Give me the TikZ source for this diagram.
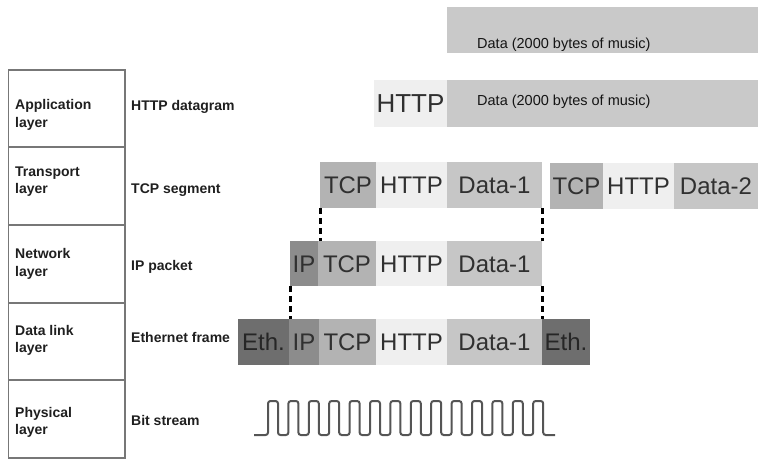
\documentclass[tikz,border=0pt]{standalone}
\usepackage{fontspec}
\setmainfont{Liberation Sans}
\definecolor{cEth}{HTML}{6E6E6E}
\definecolor{cIP}{HTML}{8C8C8C}
\definecolor{cTCP}{HTML}{B3B3B3}
\definecolor{cHTTP}{HTML}{EFEFEF}
\definecolor{cData}{HTML}{C6C6C6}
\definecolor{cMusic}{HTML}{C9C9C9}
\definecolor{pktext}{HTML}{303030}
\definecolor{frame}{HTML}{777777}
\definecolor{wavec}{HTML}{555555}
\begin{document}
\begin{tikzpicture}[x=1pt,y=-1pt,
  layerbox/.style={draw=frame, line width=1.5pt, anchor=north west, inner sep=0,
    minimum width=116.5},
  layername/.style={anchor=west, align=left, inner sep=0, text=black!88,
    font=\fontsize{14}{17.5}\selectfont\bfseries},
  unitname/.style={anchor=west, inner sep=0, text=black!88, text height=10, text depth=0,
    font=\fontsize{14}{17}\selectfont\bfseries},
  pkt/.style={anchor=north west, inner sep=0, outer sep=0, minimum height=46,
    text height=17, text depth=0, text=pktext, font=\fontsize{24}{24}\selectfont},
  musictxt/.style={anchor=west, inner sep=0, text height=10.5, text depth=0,
    text=black!92, font=\fontsize{14.5}{16}\selectfont},
  link/.style={line width=3pt, dash pattern=on 6pt off 4pt, black},
  wave/.style={draw=wavec, line width=2pt, rounded corners=2.5pt}
]
\useasboundingbox (0,0) rectangle (758,459);

% OSI layer column
\node[layerbox, minimum height=77] (appl) at (7.5,69) {};
\node[layerbox, minimum height=78] (tran) at (7.5,146) {};
\node[layerbox, minimum height=78] (netw) at (7.5,224) {};
\node[layerbox, minimum height=77] (link) at (7.5,302) {};
\node[layerbox, minimum height=78] (phys) at (7.5,379) {};

\node[layername] (applname) at (15,115) {Application\\layer};
\node[layername] (tranname) at (15,181.5) {Transport\\layer};
\node[layername] (netwname) at (15,264) {Network\\layer};
\node[layername] (linkname) at (15,340.5) {Data link\\layer};
\node[layername] (physname) at (15,422.5) {Physical\\layer};

% data unit names
\node[unitname] (u1) at (131,105) {HTTP datagram};
\node[unitname] (u2) at (131,188) {TCP segment};
\node[unitname] (u3) at (131,265) {IP packet};
\node[unitname] (u4) at (131,337) {Ethernet frame};
\node[unitname] (u5) at (131,420) {Bit stream};

% raw music data
\node[pkt, fill=cMusic, minimum width=311] (music) at (447,7) {};
\node[musictxt] (musictext) at (477,43) {Data (2000 bytes of music)};

% HTTP datagram
\node[pkt, fill=cHTTP, minimum width=73, minimum height=47,
      font=\fontsize{26}{26}\selectfont] (httpE) at (374,80) {HTTP};
\node[pkt, fill=cMusic, minimum width=311, minimum height=47] (dataE) at (447,80) {};
\node[musictxt] (datagramtext) at (477,100) {Data (2000 bytes of music)};

% TCP segments
\node[pkt, fill=cTCP, minimum width=56] (tcpA) at (320,162) {TCP};
\node[pkt, fill=cHTTP, minimum width=71] (httpA) at (376,162) {HTTP};
\node[pkt, fill=cData, minimum width=95] (dataA) at (447,162) {Data-1};
\node[pkt, fill=cTCP, minimum width=53] (tcpB) at (550,163) {TCP};
\node[pkt, fill=cHTTP, minimum width=71] (httpB) at (603,163) {HTTP};
\node[pkt, fill=cData, minimum width=84] (dataB) at (674,163) {Data-2};

% IP packet
\node[pkt, fill=cIP, minimum width=28, minimum height=45] (ipC) at (290,241) {IP};
\node[pkt, fill=cTCP, minimum width=58, minimum height=45] (tcpC) at (318,241) {TCP};
\node[pkt, fill=cHTTP, minimum width=71, minimum height=45] (httpC) at (376,241) {HTTP};
\node[pkt, fill=cData, minimum width=95, minimum height=45] (dataC) at (447,241) {Data-1};

% Ethernet frame
\node[pkt, fill=cEth, minimum width=51, text=black!85] (ethL) at (238,319) {Eth.};
\node[pkt, fill=cIP, minimum width=30] (ipD) at (289,319) {IP};
\node[pkt, fill=cTCP, minimum width=57] (tcpD) at (319,319) {TCP};
\node[pkt, fill=cHTTP, minimum width=71] (httpD) at (376,319) {HTTP};
\node[pkt, fill=cData, minimum width=95] (dataD) at (447,319) {Data-1};
\node[pkt, fill=cEth, minimum width=48, text=black!85] (ethR) at (542,319) {Eth.};

% encapsulation links
\draw[link] (tcpA.south west) -- (tcpA.south west |- tcpC.north);
\draw[link] (dataA.south east) -- (dataA.south east |- dataC.north);
\draw[link] (ipC.south west) -- (ipC.south west |- ipD.north);
\draw[link] (dataC.south east) -- (dataC.south east |- dataD.north);

% bit stream
\draw[wave] (254,435)
  foreach \i in {0,...,13} {
    -- (268+20.4*\i,435) -- (268+20.4*\i,401) -- (278+20.4*\i,401) -- (278+20.4*\i,435)
  } -- (555,435);
\end{tikzpicture}
\end{document}
